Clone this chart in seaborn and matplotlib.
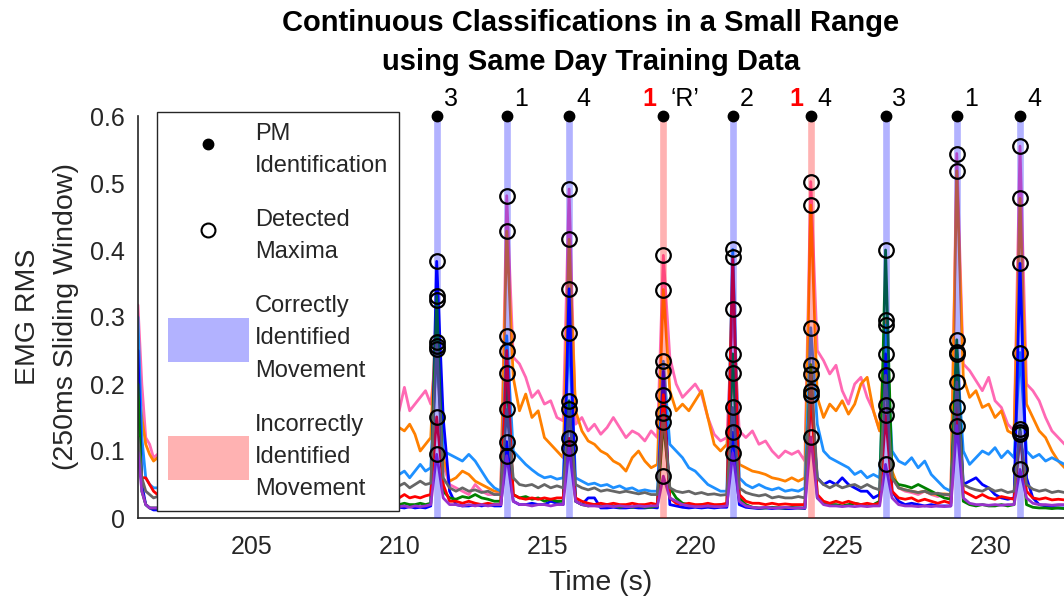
import numpy as np
import pandas as pd
import matplotlib
matplotlib.use("Agg")
import matplotlib.pyplot as plt
from matplotlib.lines import Line2D
from matplotlib.patches import Patch
import seaborn as sns

# PM classifier movement identifications (s) and their labels
event_times = [211.25, 213.62, 215.73, 218.92, 221.27, 223.91, 226.44, 228.85, 230.99]
true_labels = ["3", "1", "4", "\u2018R\u2019", "2", "4", "3", "1", "4"]
predicted_labels = ["3", "1", "4", "1", "2", "1", "3", "1", "4"]

# Sampling windows (s) of the RMS traces between the movement peaks
segment_windows = [(201.14, 201.80), (209.80, 211.05), (211.47, 213.42), (213.84, 215.53),
                   (215.95, 218.72), (219.14, 221.07), (221.49, 223.71), (224.13, 226.24),
                   (226.66, 228.65), (229.07, 230.79), (231.21, 232.50)]

# EMG RMS per channel: values inside each window, and the value at each movement
pink_segments = [
    [0.318, 0.20, 0.12, 0.11, 0.09, 0.095],
    [0.15, 0.16, 0.195, 0.16, 0.17, 0.18, 0.19, 0.17],
    [0.08, 0.05, 0.045, 0.04, 0.035, 0.05, 0.04, 0.035, 0.035, 0.04],
    [0.24, 0.23, 0.21, 0.18, 0.19, 0.17, 0.175, 0.15, 0.145],
    [0.14, 0.15, 0.13, 0.14, 0.125, 0.135, 0.15, 0.135, 0.12, 0.13, 0.125, 0.115, 0.13, 0.12],
    [0.24, 0.2, 0.18, 0.19, 0.2, 0.185, 0.15, 0.125, 0.115, 0.12],
    [0.13, 0.12, 0.13, 0.11, 0.115, 0.1, 0.09, 0.1, 0.095, 0.1, 0.085],
    [0.25, 0.235, 0.215, 0.228, 0.19, 0.17, 0.2, 0.21, 0.18, 0.16, 0.13],
    [0.06, 0.045, 0.04, 0.038, 0.035, 0.04, 0.035, 0.032, 0.035, 0.033],
    [0.23, 0.22, 0.205, 0.19, 0.21, 0.175, 0.165, 0.14, 0.13],
    [0.2, 0.19, 0.175, 0.15, 0.13, 0.12, 0.11],
]
pink_peaks = [0.252, 0.481, 0.491, 0.392, 0.312, 0.502, 0.169, 0.544, 0.555]

orange_segments = [
    [0.197, 0.15, 0.11, 0.095, 0.085, 0.09],
    [0.125, 0.135, 0.13, 0.14, 0.125, 0.10, 0.11, 0.12],
    [0.09, 0.055, 0.06, 0.07, 0.065, 0.055, 0.05, 0.045, 0.04, 0.04],
    [0.21, 0.16, 0.185, 0.15, 0.16, 0.12, 0.11, 0.1, 0.09],
    [0.16, 0.13, 0.115, 0.11, 0.1, 0.095, 0.085, 0.08, 0.07, 0.09, 0.1, 0.085, 0.075, 0.08],
    [0.19, 0.16, 0.17, 0.16, 0.175, 0.19, 0.15, 0.11, 0.1, 0.11],
    [0.08, 0.075, 0.07, 0.068, 0.065, 0.06, 0.058, 0.055, 0.06, 0.055, 0.06],
    [0.18, 0.15, 0.17, 0.16, 0.175, 0.155, 0.17, 0.2, 0.21, 0.16, 0.13],
    [0.07, 0.045, 0.042, 0.04, 0.038, 0.04, 0.036, 0.035, 0.036, 0.035],
    [0.21, 0.18, 0.19, 0.165, 0.17, 0.15, 0.16, 0.13, 0.125],
    [0.17, 0.15, 0.13, 0.12, 0.1, 0.085, 0.075],
]
orange_peaks = [0.326, 0.428, 0.416, 0.341, 0.216, 0.467, 0.296, 0.518, 0.477]

skyblue_segments = [
    [0.30, 0.12, 0.06, 0.05, 0.045, 0.045],
    [0.07, 0.065, 0.07, 0.06, 0.07, 0.08, 0.07, 0.075],
    [0.1, 0.095, 0.09, 0.085, 0.095, 0.085, 0.07, 0.055, 0.045, 0.04],
    [0.1, 0.09, 0.08, 0.072, 0.065, 0.06, 0.062, 0.058, 0.06],
    [0.06, 0.055, 0.05, 0.052, 0.048, 0.05, 0.045, 0.048, 0.043, 0.045, 0.04, 0.042, 0.04, 0.04],
    [0.11, 0.1, 0.09, 0.075, 0.07, 0.06, 0.05, 0.045, 0.04, 0.04],
    [0.06, 0.05, 0.045, 0.05, 0.045, 0.042, 0.045, 0.04, 0.042, 0.04, 0.045],
    [0.14, 0.1, 0.09, 0.085, 0.08, 0.075, 0.065, 0.07, 0.06, 0.065, 0.06],
    [0.1, 0.085, 0.08, 0.09, 0.075, 0.085, 0.065, 0.055, 0.045, 0.04],
    [0.1, 0.08, 0.09, 0.1, 0.095, 0.105, 0.09, 0.1, 0.09],
    [0.1, 0.09, 0.095, 0.085, 0.09, 0.085, 0.08],
]
skyblue_peaks = [0.257, 0.272, 0.276, 0.234, 0.401, 0.284, 0.288, 0.248, 0.247]

blue_segments = [
    [0.25, 0.05, 0.02, 0.015, 0.012, 0.012],
    [0.015, 0.016, 0.015, 0.017, 0.015, 0.016, 0.015, 0.018],
    [0.15, 0.04, 0.02, 0.018, 0.018, 0.02, 0.018, 0.02, 0.018, 0.018],
    [0.025, 0.02, 0.02, 0.022, 0.02, 0.02, 0.025, 0.022, 0.02],
    [0.025, 0.02, 0.03, 0.03, 0.015, 0.015, 0.016, 0.015, 0.015, 0.016, 0.015, 0.015, 0.016, 0.015],
    [0.02, 0.018, 0.016, 0.015, 0.016, 0.015, 0.016, 0.015, 0.016, 0.016],
    [0.02, 0.016, 0.015, 0.014, 0.015, 0.014, 0.015, 0.014, 0.014, 0.015, 0.014],
    [0.06, 0.05, 0.055, 0.05, 0.06, 0.05, 0.045, 0.04, 0.04, 0.03, 0.035],
    [0.04, 0.025, 0.02, 0.022, 0.02, 0.018, 0.02, 0.018, 0.018, 0.018],
    [0.05, 0.055, 0.06, 0.05, 0.045, 0.035, 0.03, 0.028, 0.03],
    [0.06, 0.03, 0.02, 0.018, 0.016, 0.015, 0.015],
]
blue_peaks = [0.383, 0.114, 0.342, 0.219, 0.128, 0.183, 0.245, 0.245, 0.380]

green_segments = [
    [0.2, 0.04, 0.02, 0.015, 0.015, 0.015],
    [0.02, 0.02, 0.022, 0.02, 0.02, 0.022, 0.02, 0.022],
    [0.04, 0.03, 0.028, 0.032, 0.03, 0.035, 0.03, 0.028, 0.025, 0.025],
    [0.035, 0.03, 0.032, 0.028, 0.03, 0.025, 0.028, 0.025, 0.025],
    [0.025, 0.02, 0.018, 0.02, 0.018, 0.02, 0.018, 0.016, 0.018, 0.016, 0.018, 0.016, 0.016, 0.018],
    [0.045, 0.03, 0.022, 0.02, 0.018, 0.02, 0.018, 0.018, 0.02, 0.02],
    [0.03, 0.02, 0.016, 0.015, 0.015, 0.016, 0.015, 0.015, 0.016, 0.015, 0.015],
    [0.03, 0.022, 0.02, 0.02, 0.018, 0.02, 0.022, 0.02, 0.018, 0.02, 0.025],
    [0.06, 0.05, 0.048, 0.045, 0.05, 0.045, 0.04, 0.035, 0.03, 0.028],
    [0.025, 0.02, 0.018, 0.02, 0.018, 0.018, 0.02, 0.018, 0.02],
    [0.02, 0.016, 0.015, 0.015, 0.014, 0.015, 0.014],
]
green_peaks = [0.331, 0.216, 0.175, 0.144, 0.245, 0.229, 0.400, 0.266, 0.133]

red_segments = [
    [0.10, 0.06, 0.06, 0.05, 0.04, 0.035],
    [0.03, 0.03, 0.035, 0.03, 0.032, 0.03, 0.033, 0.035],
    [0.05, 0.025, 0.025, 0.022, 0.025, 0.022, 0.02, 0.022, 0.02, 0.02],
    [0.035, 0.03, 0.028, 0.03, 0.028, 0.03, 0.028, 0.03, 0.03],
    [0.03, 0.025, 0.022, 0.02, 0.022, 0.02, 0.022, 0.02, 0.02, 0.022, 0.02, 0.02, 0.022, 0.02],
    [0.03, 0.022, 0.02, 0.022, 0.02, 0.02, 0.022, 0.02, 0.02, 0.022],
    [0.035, 0.025, 0.022, 0.022, 0.02, 0.022, 0.02, 0.021, 0.02, 0.02, 0.02],
    [0.035, 0.025, 0.022, 0.025, 0.022, 0.025, 0.022, 0.02, 0.022, 0.02, 0.022],
    [0.04, 0.03, 0.028, 0.03, 0.025, 0.028, 0.025, 0.022, 0.025, 0.022],
    [0.04, 0.035, 0.03, 0.035, 0.03, 0.028, 0.032, 0.03, 0.028],
    [0.04, 0.03, 0.028, 0.03, 0.027, 0.028, 0.027],
]
red_peaks = [0.151, 0.250, 0.119, 0.184, 0.390, 0.190, 0.153, 0.166, 0.126]

gray_segments = [
    [0.12, 0.06, 0.04, 0.035, 0.03, 0.032],
    [0.05, 0.048, 0.052, 0.045, 0.05, 0.055, 0.05, 0.052],
    [0.06, 0.045, 0.04, 0.045, 0.04, 0.042, 0.038, 0.04, 0.035, 0.035],
    [0.06, 0.05, 0.048, 0.05, 0.045, 0.05, 0.045, 0.048, 0.045],
    [0.05, 0.045, 0.042, 0.045, 0.04, 0.042, 0.04, 0.038, 0.04, 0.038, 0.036, 0.038, 0.035, 0.035],
    [0.045, 0.04, 0.038, 0.04, 0.036, 0.038, 0.035, 0.036, 0.034, 0.035],
    [0.045, 0.038, 0.035, 0.033, 0.035, 0.03, 0.032, 0.03, 0.03, 0.032, 0.03],
    [0.06, 0.05, 0.045, 0.05, 0.045, 0.048, 0.05, 0.045, 0.05, 0.045, 0.042],
    [0.06, 0.045, 0.042, 0.04, 0.038, 0.04, 0.036, 0.037, 0.035, 0.035],
    [0.05, 0.045, 0.042, 0.04, 0.045, 0.04, 0.042, 0.038, 0.04],
    [0.05, 0.043, 0.04, 0.042, 0.038, 0.04, 0.038],
]
gray_peaks = [0.262, 0.162, 0.162, 0.156, 0.165, 0.215, 0.213, 0.203, 0.129]

purple_segments = [
    [0.098, 0.04, 0.02, 0.015, 0.015, 0.015],
    [0.018, 0.017, 0.018, 0.016, 0.018, 0.017, 0.018, 0.02],
    [0.03, 0.02, 0.02, 0.018, 0.02, 0.018, 0.02, 0.018, 0.02, 0.02],
    [0.025, 0.02, 0.02, 0.018, 0.02, 0.02, 0.018, 0.02, 0.02],
    [0.025, 0.02, 0.018, 0.018, 0.017, 0.018, 0.017, 0.018, 0.017, 0.017, 0.018, 0.017, 0.018, 0.018],
    [0.03, 0.025, 0.02, 0.018, 0.017, 0.017, 0.018, 0.017, 0.017, 0.018],
    [0.025, 0.018, 0.016, 0.015, 0.016, 0.015, 0.015, 0.016, 0.015, 0.015, 0.015],
    [0.03, 0.02, 0.018, 0.018, 0.017, 0.018, 0.017, 0.018, 0.017, 0.018, 0.018],
    [0.03, 0.02, 0.018, 0.018, 0.017, 0.018, 0.017, 0.018, 0.017, 0.018],
    [0.03, 0.022, 0.02, 0.02, 0.019, 0.02, 0.019, 0.02, 0.02],
    [0.03, 0.022, 0.02, 0.02, 0.019, 0.02, 0.02],
]
purple_peaks = [0.095, 0.093, 0.105, 0.0625, 0.097, 0.121, 0.080, 0.138, 0.0725]

channels = {
    "Ch 8": (pink_segments, pink_peaks, "#ff69b4"),
    "Ch 7": (orange_segments, orange_peaks, "#ff8000"),
    "Ch 6": (skyblue_segments, skyblue_peaks, "#1e90ff"),
    "Ch 1": (blue_segments, blue_peaks, "#0000ff"),
    "Ch 3": (green_segments, green_peaks, "#008000"),
    "Ch 2": (red_segments, red_peaks, "#ff0000"),
    "Ch 5": (gray_segments, gray_peaks, "#666666"),
    "Ch 4": (purple_segments, purple_peaks, "#9932cc"),
}


def assemble(segments, peaks):
    """Join window samples and movement peaks into one time-ordered trace."""
    times, values = [], []
    for k, (seg, (t0, t1)) in enumerate(zip(segments, segment_windows)):
        times.extend(np.linspace(t0, t1, len(seg)))
        values.extend(seg)
        if 1 <= k <= len(event_times):
            times.append(event_times[k - 1])
            values.append(peaks[k - 1])
    return times, values


frames = []
for name, (segs, peaks, _) in channels.items():
    t, v = assemble(segs, peaks)
    frames.append(pd.DataFrame({"time": t, "rms": v, "channel": name}))
emg = pd.concat(frames, ignore_index=True)
palette = {name: spec[2] for name, spec in channels.items()}

# Detected maxima: largest RMS of every channel at each identified movement
maxima = []
for e in event_times:
    near = emg[(emg["time"] - e).abs() < 0.05]
    for name, grp in near.groupby("channel"):
        maxima.append((e, grp["rms"].max()))
maxima = pd.DataFrame(maxima, columns=["time", "rms"])

sns.set_theme(style="white")
plt.rcParams["font.family"] = ["Liberation Sans", "DejaVu Sans"]
ink = (0.15, 0.15, 0.15)

fig = plt.figure(figsize=(10.64, 6.01), dpi=100)
ax = fig.add_axes([138 / 1064, 1 - 518 / 601, 1 - 138 / 1064, (518 - 116) / 601])

sns.lineplot(data=emg, x="time", y="rms", hue="channel", hue_order=list(channels),
             palette=palette, estimator=None, sort=False, legend=False,
             linewidth=2.0, ax=ax, zorder=2)

correct = [p == t for p, t in zip(predicted_labels, true_labels)]
for e, ok in zip(event_times, correct):
    ax.axvline(e, ymin=0, ymax=1, color=(0, 0, 1) if ok else (1, 0, 0), alpha=0.3,
               lw=4.8, solid_capstyle="butt", zorder=3)

ax.plot(maxima["time"], maxima["rms"], linestyle="none", marker="o", ms=10.5,
        mfc="none", mec="black", mew=1.6, zorder=4)
ax.plot(event_times, [0.6] * len(event_times), linestyle="none", marker="o", ms=7.5,
        color="black", zorder=5, clip_on=False)

for e, t_lab, p_lab, ok in zip(event_times, true_labels, predicted_labels, correct):
    ax.annotate(t_lab, xy=(e, 0.6), xytext=(5, 7), textcoords="offset points",
                ha="left", va="baseline", fontsize=18, color="black", annotation_clip=False)
    if not ok:
        ax.annotate(p_lab, xy=(e, 0.6), xytext=(-5, 7), textcoords="offset points",
                    ha="right", va="baseline", fontsize=18, color="red",
                    fontweight="bold", annotation_clip=False)

ax.set_xlim(201.142, 232.479)
ax.set_ylim(0, 0.6)
ax.set_xticks([205, 210, 215, 220, 225, 230])
ax.set_yticks([0, 0.1, 0.2, 0.3, 0.4, 0.5, 0.6])
ax.set_yticklabels(["0", "0.1", "0.2", "0.3", "0.4", "0.5", "0.6"])
ax.tick_params(axis="both", direction="in", length=5, width=1, colors=ink,
               labelsize=18, labelcolor=ink)
ax.tick_params(axis="x", pad=12)
ax.tick_params(axis="y", pad=9.5)
for side in ("top", "right"):
    ax.spines[side].set_visible(False)
for side in ("left", "bottom"):
    ax.spines[side].set_color(ink)
    ax.spines[side].set_linewidth(1.2)

ax.set_xlabel("Time (s)", fontsize=20.5, color=ink, labelpad=8)
ax.set_ylabel("EMG RMS\n(250ms Sliding Window)", fontsize=20.5, color=ink, labelpad=8)
ax.yaxis.label.set_linespacing(1.6)

handles = [
    Line2D([], [], linestyle="none", marker="o", ms=7.5, color="black"),
    Line2D([], [], linestyle="none", marker="o", ms=10, mfc="white", mec="black", mew=1.5),
    Patch(facecolor=(0, 0, 1, 0.3), edgecolor="none"),
    Patch(facecolor=(1, 0, 0, 0.3), edgecolor="none"),
]
labels = ["PM\nIdentification", "Detected\nMaxima",
          "Correctly\nIdentified\nMovement", "Incorrectly\nIdentified\nMovement"]
leg = ax.legend(handles, labels, loc="upper left",
                bbox_to_anchor=((157 - 138) / 926, (518 - 112) / 402),
                borderaxespad=0, fontsize=17, handlelength=3.43, handleheight=2.5,
                handletextpad=0.28, labelspacing=1.36, borderpad=0.45,
                fancybox=False, framealpha=1, edgecolor=ink)
for txt in leg.get_texts():
    txt.set_linespacing(1.6)
leg.get_frame().set_linewidth(1.0)
leg.set_zorder(10)

fig.text(591 / 1064, 1 - 9 / 601,
         "Continuous Classifications in a Small Range\nusing Same Day Training Data",
         ha="center", va="top", fontsize=21, fontweight="bold", color="black",
         linespacing=1.5)

fig.savefig("out.png", dpi=100)
